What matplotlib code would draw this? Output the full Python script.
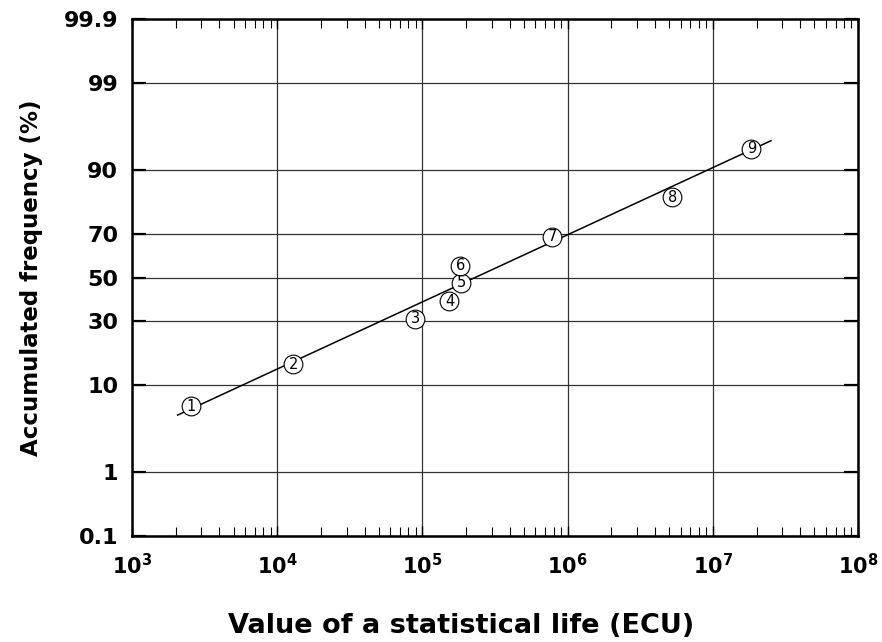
import math
import numpy as np
import matplotlib
matplotlib.use("Agg")
import matplotlib.pyplot as plt
from matplotlib.ticker import FixedLocator, NullLocator, LogLocator, NullFormatter

# values
vsl = [2550, 12900, 88900, 153500, 184800, 182700, 780000, 5.26e6, 1.84e7]
freq = [6.2, 15.0, 31.2, 38.8, 47.4, 55.6, 68.7, 83.1, 93.8]
point_ids = ['1', '2', '3', '4', '5', '6', '7', '8', '9']

fit_x = [2060, 2.515e7]
fit_y = [5.0, 94.9]

yticks = [0.1, 1, 10, 30, 50, 70, 90, 99, 99.9]
ytick_labels = ['0.1', '1', '10', '30', '50', '70', '90', '99', '99.9']
xticks = [1e3, 1e4, 1e5, 1e6, 1e7, 1e8]
xtick_labels = [r'$\mathbf{10^{%d}}$' % k for k in range(3, 9)]


# probit scale (normal probability paper), no scipy needed
_a = [-3.969683028665376e+01, 2.209460984245205e+02, -2.759285104469687e+02,
      1.383577518672690e+02, -3.066479806614716e+01, 2.506628277459239e+00]
_b = [-5.447609879822406e+01, 1.615858368580409e+02, -1.556989798598866e+02,
      6.680131188771972e+01, -1.328068155288572e+01]
_c = [-7.784894002430293e-03, -3.223964580411365e-01, -2.400758277161838e+00,
      -2.549671010243000e+00, 4.374664141464968e+00, 2.938163982698783e+00]
_d = [7.784695709041462e-03, 3.224671290700398e-01, 2.445134137142996e+00,
      3.754408661907416e+00]


def ppf(p):
    p = np.clip(np.asarray(p, dtype=float), 1e-12, 1 - 1e-12)
    out = np.empty_like(p)
    lo = p < 0.02425
    hi = p > 1 - 0.02425
    mid = ~(lo | hi)
    q = np.sqrt(-2 * np.log(p[lo]))
    out[lo] = ((((( _c[0]*q + _c[1])*q + _c[2])*q + _c[3])*q + _c[4])*q + _c[5]) / \
              ((((_d[0]*q + _d[1])*q + _d[2])*q + _d[3])*q + 1)
    q = np.sqrt(-2 * np.log(1 - p[hi]))
    out[hi] = -((((( _c[0]*q + _c[1])*q + _c[2])*q + _c[3])*q + _c[4])*q + _c[5]) / \
               ((((_d[0]*q + _d[1])*q + _d[2])*q + _d[3])*q + 1)
    q = p[mid] - 0.5
    r = q * q
    out[mid] = (((((_a[0]*r + _a[1])*r + _a[2])*r + _a[3])*r + _a[4])*r + _a[5]) * q / \
               (((((_b[0]*r + _b[1])*r + _b[2])*r + _b[3])*r + _b[4])*r + 1)
    return out


_erf = np.vectorize(math.erf)


def to_probit(y):
    return ppf(np.asarray(y, dtype=float) / 100.0)


def from_probit(z):
    return 50.0 * (1 + _erf(np.asarray(z, dtype=float) / math.sqrt(2)))


plt.rcParams['font.family'] = 'DejaVu Sans'
plt.rcParams['font.weight'] = 'bold'
plt.rcParams['mathtext.fontset'] = 'dejavusans'

fig = plt.figure(figsize=(8.82, 6.42), dpi=100)
ax = fig.add_axes([0.1497, 0.1651, 0.8231, 0.8053])

ax.set_xscale('log')
ax.set_yscale('function', functions=(to_probit, from_probit))
ax.set_xlim(1e3, 1e8)
ax.set_ylim(0.1, 99.9)

ax.grid(True, which='major', color='#333333', lw=0.9)
ax.set_axisbelow(True)

ax.plot(fit_x, fit_y, color='black', lw=1.1, zorder=3)
ax.plot(vsl, freq, linestyle='none', marker='o', markersize=13.5,
        mfc='white', mec='black', mew=0.8, zorder=4)
for x, y, s in zip(vsl, freq, point_ids):
    ax.text(x, y, s, ha='center', va='center', fontsize=10.5,
            fontweight='normal', zorder=5)

ax.yaxis.set_major_locator(FixedLocator(yticks))
ax.yaxis.set_minor_locator(NullLocator())
ax.set_yticklabels(ytick_labels)
ax.xaxis.set_major_locator(FixedLocator(xticks))
ax.set_xticklabels(xtick_labels)
ax.xaxis.set_minor_locator(LogLocator(base=10, subs=np.arange(2, 10)))
ax.xaxis.set_minor_formatter(NullFormatter())

ax.tick_params(axis='y', which='major', direction='in', length=10, width=1.6,
               left=True, right=True, labelsize=16, pad=10)
ax.tick_params(axis='x', which='major', direction='in', length=7, width=1,
               top=True, bottom=True, labelsize=15, pad=12)
ax.tick_params(axis='x', which='minor', direction='in', length=6.5, width=0.8,
               top=True, bottom=True)

for sp in ax.spines.values():
    sp.set_linewidth(1.8)

ax.set_xlabel('Value of a statistical life (ECU)', fontsize=19.5,
              fontweight='bold')
ax.xaxis.set_label_coords(0.453, -0.148)
ax.set_ylabel('Accumulated frequency (%)', fontsize=16.5,
              fontweight='bold', labelpad=15)

fig.savefig('out.png', dpi=100)
